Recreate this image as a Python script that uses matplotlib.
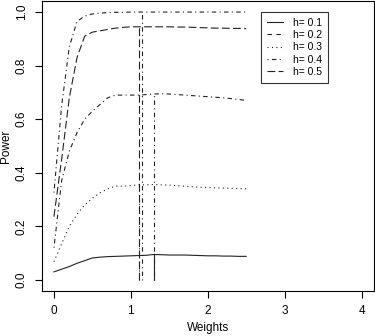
import matplotlib
matplotlib.use("Agg")
import matplotlib.pyplot as plt

plt.rcParams['font.family'] = ['Liberation Sans', 'DejaVu Sans']

# x grid (weights)
w = [0.0, 0.1, 0.2, 0.3, 0.4, 0.5, 0.6, 0.7, 0.8, 0.9, 1.0, 1.1, 1.2, 1.3, 1.4,
     1.5, 1.6, 1.7, 1.8, 1.9, 2.0, 2.1, 2.2, 2.3, 2.4, 2.5]

p_solid = [0.030, 0.040, 0.050, 0.062, 0.072, 0.082, 0.085, 0.087, 0.088, 0.089, 0.090,
           0.091, 0.092, 0.095, 0.094, 0.093, 0.093, 0.093, 0.092, 0.091, 0.090,
           0.090, 0.089, 0.089, 0.088, 0.088]
p_dotted = [0.068, 0.135, 0.200, 0.245, 0.280, 0.305, 0.325, 0.340, 0.350, 0.350, 0.352,
            0.355, 0.355, 0.356, 0.355, 0.354, 0.352, 0.350, 0.348, 0.346, 0.345,
            0.344, 0.343, 0.342, 0.341, 0.340]
p_dashdot = [0.120, 0.370, 0.480, 0.550, 0.600, 0.630, 0.655, 0.680, 0.690, 0.690, 0.690,
             0.690, 0.692, 0.694, 0.695, 0.694, 0.692, 0.690, 0.688, 0.686, 0.684,
             0.682, 0.680, 0.677, 0.674, 0.670]
p_longdash = [0.236, 0.450, 0.680, 0.830, 0.910, 0.925, 0.930, 0.935, 0.940, 0.943, 0.945,
              0.945, 0.945, 0.945, 0.945, 0.945, 0.944, 0.944, 0.943, 0.942, 0.941,
              0.940, 0.940, 0.939, 0.939, 0.938]
p_top = [0.326, 0.650, 0.870, 0.965, 0.985, 0.993, 0.996, 0.998, 0.999, 0.999, 1.000,
         1.000, 1.000, 1.000, 1.000, 1.000, 1.000, 1.000, 1.000, 1.000, 1.000,
         1.000, 1.000, 1.000, 1.000, 1.000]

# optimal weight markers (vertical lines): x position, height
v_solid = (1.30, 0.095)
v_dotted = (1.10, 0.355)
v_dashdot = (1.30, 0.692)
v_longdash = (1.10, 0.945)
v_top = (1.15, 1.000)

legend_labels = ["h= 0.1", "h= 0.2", "h= 0.3", "h= 0.4", "h= 0.5"]

fig = plt.figure(figsize=(3.75, 3.36), dpi=100)
ax = fig.add_axes([0.111, 0.135, 0.886, 0.861])

lw = 0.8
col = '#222222'
s_solid = '-'
s_dashed = (0, (4, 4))
s_dotted = (0, (1, 3))
s_dashdot = (0, (1, 3, 4, 3))
s_longdash = (0, (7, 3))

ax.plot(w, p_solid, color=col, lw=lw, linestyle=s_solid)
ax.plot(w, p_dotted, color=col, lw=lw, linestyle=s_dotted)
ax.plot(w, p_dashdot, color=col, lw=lw, linestyle=s_dashdot)
ax.plot(w, p_longdash, color=col, lw=lw, linestyle=s_longdash)
ax.plot(w, p_top, color=col, lw=lw, linestyle=s_dashdot)

for (vx, vh), st in [(v_solid, s_solid), (v_dotted, s_dotted), (v_dashdot, s_dashdot),
                     (v_longdash, s_longdash), (v_top, s_dashdot)]:
    ax.plot([vx, vx], [0, vh], color=col, lw=lw, linestyle=st)

ax.set_xlim(-0.16, 4.16)
ax.set_ylim(-0.04, 1.04)
ax.set_xticks([0, 1, 2, 3, 4])
ax.set_xticklabels(['0', '1', '2', '3', '4'])
ax.set_yticks([0.0, 0.2, 0.4, 0.6, 0.8, 1.0])
ax.set_yticklabels(['0.0', '0.2', '0.4', '0.6', '0.8', '1.0'], rotation=90, va='center')
ax.tick_params(direction='out', length=5, width=0.8, labelsize=8.5, pad=5)
for sp in ax.spines.values():
    sp.set_linewidth(0.8)
ax.set_xlabel('Weights', fontsize=8.5, labelpad=4)
ax.set_ylabel('Power', fontsize=8.5, labelpad=3)

handles = [plt.Line2D([], [], color=col, lw=lw, linestyle=s)
           for s in [s_solid, s_dashed, s_dotted, s_dashdot, s_longdash]]
leg = ax.legend(handles, legend_labels, loc='upper left', bbox_to_anchor=(0.66, 0.963),
                fontsize=7.5, frameon=True, fancybox=False, handlelength=1.6,
                labelspacing=0.22, borderpad=0.55, handletextpad=0.9, borderaxespad=0)
leg.get_frame().set_edgecolor('black')
leg.get_frame().set_linewidth(0.8)

fig.savefig('out.png', dpi=100)
